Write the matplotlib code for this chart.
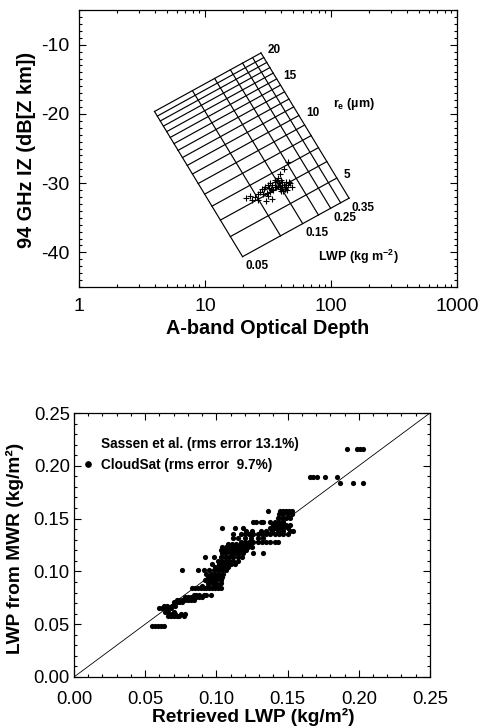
import numpy as np
import matplotlib.pyplot as plt
from matplotlib.ticker import MultipleLocator, LogLocator, NullFormatter, FixedLocator
from matplotlib.lines import Line2D

plt.rcParams['font.family'] = ['Liberation Sans', 'DejaVu Sans']
plt.rcParams['mathtext.fontset'] = 'custom'
plt.rcParams['mathtext.rm'] = 'Liberation Sans:bold'
plt.rcParams['mathtext.it'] = 'Liberation Sans:bold'
plt.rcParams['mathtext.bf'] = 'Liberation Sans:bold'
plt.rcParams['axes.unicode_minus'] = False

# --- panel (a) : LWP / r_e lookup grid ---
lwp_grid = [0.05, 0.10, 0.15, 0.20, 0.25, 0.30, 0.35]
re_grid = [4, 5, 6, 7, 8, 9, 10, 11, 12, 13, 14, 15, 16, 17, 18, 19, 20]
lwp_labels = ['0.05', '0.15', '0.25', '0.35']
re_labels = ['5', '10', '15', '20']
tau_coef = 1590.0      # tau = coef * LWP / re
iz_offset = -45.67     # IZ = 10log(LWP) + 30log(re) + offset

# observations (optical depth, integrated Z)
obs_tau = [21.1, 22.8, 24.9, 26.3, 27.3, 28.3, 29.9, 31.6, 32.8, 34.0,
           35.9, 37.3, 38.7, 39.4, 40.8, 42.4, 43.9, 45.6, 43.2, 41.6,
           39.4, 36.6, 34.7, 32.8, 31.6, 34.0, 30.5, 38.0, 39.4, 42.4,
           45.6, 47.3, 49.0, 44.7, 35.9, 28.9, 26.3, 23.6, 32.2, 40.1,
           41.0, 42.8, 44.2, 37.8, 36.2, 33.4, 30.8, 29.2, 46.5, 40.4]
obs_iz = [-32.2, -31.9, -32.0, -31.6, -31.3, -30.9, -30.6, -30.3, -30.0, -30.2,
          -29.9, -29.7, -30.0, -30.3, -29.9, -30.2, -30.6, -30.3, -30.9, -31.2,
          -30.9, -30.6, -31.0, -31.3, -31.8, -32.3, -32.6, -29.2, -28.7, -28.0,
          -27.0, -30.0, -30.5, -31.0, -30.5, -31.5, -32.5, -32.5, -30.7, -29.5,
          -30.5, -30.8, -29.8, -30.4, -29.6, -30.8, -31.4, -30.8, -29.8, -31.2]

# --- panel (b) : retrieved LWP vs MWR LWP ---
mwr_levels = [0.048, 0.058, 0.060, 0.062, 0.065, 0.067, 0.071, 0.073, 0.076,
              0.078, 0.084, 0.086, 0.089, 0.092, 0.095, 0.098, 0.101, 0.104,
              0.107, 0.110, 0.114, 0.117, 0.120, 0.123, 0.126, 0.128, 0.132,
              0.135, 0.138, 0.141, 0.144, 0.147, 0.151, 0.154, 0.157, 0.184,
              0.189, 0.216]
ret_rows = [
    [0.055, 0.057, 0.059, 0.061, 0.063],
    [0.066, 0.068, 0.070, 0.072, 0.074, 0.077],
    [0.067, 0.069, 0.071, 0.075, 0.078],
    [0.064, 0.066, 0.070],
    [0.060, 0.062, 0.064, 0.066, 0.068],
    [0.063, 0.065, 0.069, 0.071],
    [0.070, 0.072, 0.074, 0.076],
    [0.072, 0.074, 0.076, 0.078, 0.080, 0.082, 0.084],
    [0.078, 0.080, 0.082, 0.086, 0.088, 0.090],
    [0.084, 0.086, 0.088, 0.091, 0.093, 0.096],
    [0.083, 0.085, 0.087, 0.089, 0.091, 0.093, 0.095, 0.097, 0.099, 0.101, 0.103],
    [0.090, 0.094, 0.098, 0.102],
    [0.094, 0.097, 0.100, 0.103],
    [0.092, 0.094, 0.096, 0.098, 0.100, 0.103],
    [0.094, 0.097, 0.099, 0.101, 0.104],
    [0.093, 0.096, 0.099, 0.102, 0.105],
    [0.076, 0.087, 0.091, 0.095, 0.098, 0.101, 0.104, 0.107],
    [0.099, 0.101, 0.103, 0.106, 0.108],
    [0.097, 0.102, 0.105, 0.108, 0.110, 0.113],
    [0.101, 0.104, 0.107, 0.109, 0.112, 0.115],
    [0.092, 0.098, 0.103, 0.106, 0.109, 0.112, 0.115, 0.118],
    [0.104, 0.107, 0.110, 0.113, 0.116, 0.119, 0.126, 0.133],
    [0.103, 0.106, 0.109, 0.112, 0.115, 0.118, 0.121],
    [0.104, 0.107, 0.110, 0.113, 0.116, 0.119, 0.122, 0.125],
    [0.108, 0.111, 0.114, 0.117, 0.120, 0.123],
    [0.117, 0.120, 0.123, 0.126, 0.129, 0.132, 0.135, 0.138, 0.141, 0.143],
    [0.112, 0.115, 0.120, 0.124, 0.129, 0.133],
    [0.112, 0.117, 0.120, 0.123, 0.126, 0.129, 0.132, 0.135, 0.138, 0.141, 0.144, 0.147, 0.150],
    [0.121, 0.125, 0.131, 0.135, 0.139, 0.143, 0.147, 0.152, 0.154],
    [0.104, 0.113, 0.119, 0.138, 0.141, 0.144, 0.147, 0.150],
    [0.140, 0.143, 0.146, 0.149, 0.152],
    [0.126, 0.128, 0.131, 0.133, 0.138, 0.141, 0.144, 0.147],
    [0.143, 0.146, 0.149, 0.152],
    [0.144, 0.147, 0.150, 0.153],
    [0.136, 0.145, 0.147, 0.149, 0.151, 0.153],
    [0.187, 0.196, 0.203],
    [0.166, 0.168, 0.171, 0.176, 0.185],
    [0.192, 0.199, 0.201, 0.203],
]
legend_labels = ['Sassen et al. (rms error 13.1%)', 'CloudSat (rms error  9.7%)']

ret_lwp = [x for row in ret_rows for x in row]
mwr_lwp = [y for y, row in zip(mwr_levels, ret_rows) for _ in row]


def grid_xy(lwp, re):
    lwp = np.asarray(lwp, dtype=float)
    re = np.asarray(re, dtype=float)
    return tau_coef * lwp / re, 10 * np.log10(lwp) + 30 * np.log10(re) + iz_offset


def style_axis(ax, size):
    ax.tick_params(which='both', direction='in', top=True, right=True,
                   labelsize=size, width=0.8)
    ax.tick_params(which='major', length=5)
    ax.tick_params(which='minor', length=2.5)
    for s in ax.spines.values():
        s.set_linewidth(0.9)


fig = plt.figure(figsize=(4.81, 7.27), dpi=100)

# ---------------- top panel ----------------
ax1 = fig.add_axes([0.1642, 0.6052, 0.7859, 0.381])
for re in re_grid:
    x, y = grid_xy(lwp_grid, [re] * len(lwp_grid))
    ax1.plot(x, y, color='black', lw=0.85)
for lwp in lwp_grid:
    x, y = grid_xy([lwp] * len(re_grid), re_grid)
    ax1.plot(x, y, color='black', lw=0.85)

for lab in re_labels:
    x, y = grid_xy(lwp_grid[-1], float(lab))
    ax1.annotate(lab, (x, y), xytext=(5, 2), textcoords='offset points',
                 fontsize=8.5, fontweight='bold', ha='left', va='center')
for lab in lwp_labels:
    x, y = grid_xy(float(lab), re_grid[0])
    ax1.annotate(lab, (x, y), xytext=(2, -7), textcoords='offset points',
                 fontsize=8.5, fontweight='bold', ha='left', va='center')

ax1.text(0.672, 0.661, r'r$_{e}$ (µm)', transform=ax1.transAxes,
         fontsize=9, fontweight='bold', ha='left', va='center')
ax1.text(0.632, 0.108, r'LWP (kg m$^{-2}$)', transform=ax1.transAxes,
         fontsize=9, fontweight='bold', ha='left', va='center')

ax1.plot(obs_tau, obs_iz, ls='none', marker='+', color='black',
         markersize=4, markeredgewidth=0.8)

ax1.set_xscale('log')
ax1.set_xlim(1, 1000)
ax1.set_ylim(-45, -5)
ax1.xaxis.set_major_locator(FixedLocator([1, 10, 100, 1000]))
ax1.xaxis.set_minor_locator(LogLocator(base=10, subs=np.arange(2, 10)))
ax1.xaxis.set_minor_formatter(NullFormatter())
ax1.set_xticklabels(['1', '10', '100', '1000'])
ax1.yaxis.set_major_locator(MultipleLocator(10))
ax1.yaxis.set_minor_locator(MultipleLocator(1))
style_axis(ax1, 14)
ax1.tick_params(axis='x', which='both', pad=8)
ax1.tick_params(axis='y', which='both', pad=7)
ax1.set_xlabel('A-band Optical Depth', fontsize=14.3, fontweight='bold', va='center')
ax1.set_ylabel('94 GHz IZ (dB[Z km])', fontsize=14.3, fontweight='bold', va='center')
ax1.xaxis.set_label_coords(0.5, -0.148)
ax1.yaxis.set_label_coords(-0.138, 0.495)

# ---------------- bottom panel ----------------
ax2 = fig.add_axes([0.1538, 0.0688, 0.7401, 0.3631])
lims = (0.0, 0.25)
ax2.plot(lims, lims, color='black', lw=0.6)
ax2.scatter(ret_lwp, mwr_lwp, s=14, color='black', linewidths=0, zorder=3)
ax2.set_xlim(lims)
ax2.set_ylim(lims)
ax2.xaxis.set_major_locator(MultipleLocator(0.05))
ax2.xaxis.set_minor_locator(MultipleLocator(0.01))
ax2.yaxis.set_major_locator(MultipleLocator(0.05))
ax2.yaxis.set_minor_locator(MultipleLocator(0.01))
ax2.xaxis.set_major_formatter(plt.FormatStrFormatter('%.2f'))
ax2.yaxis.set_major_formatter(plt.FormatStrFormatter('%.2f'))
style_axis(ax2, 13.3)
ax2.tick_params(axis='x', which='both', pad=10)
ax2.tick_params(axis='y', which='both', pad=3)
ax2.set_xlabel('Retrieved LWP (kg/m²)', fontsize=13.8, fontweight='bold', va='center')
ax2.set_ylabel('LWP from MWR (kg/m²)', fontsize=13.8, fontweight='bold', va='center')
ax2.xaxis.set_label_coords(0.503, -0.152)
ax2.yaxis.set_label_coords(-0.165, 0.489)

handles = [Line2D([], [], ls='none', marker='None'),
           Line2D([], [], ls='none', marker='o', color='black', markersize=3.8)]
ax2.legend(handles, legend_labels, loc='upper left', bbox_to_anchor=(0.025, 0.91),
           frameon=False, handlelength=0.8, handletextpad=0.5, labelspacing=0.5,
           borderaxespad=0, borderpad=0, prop={'size': 9.8, 'weight': 'bold'})

fig.savefig('out.png', dpi=100)
